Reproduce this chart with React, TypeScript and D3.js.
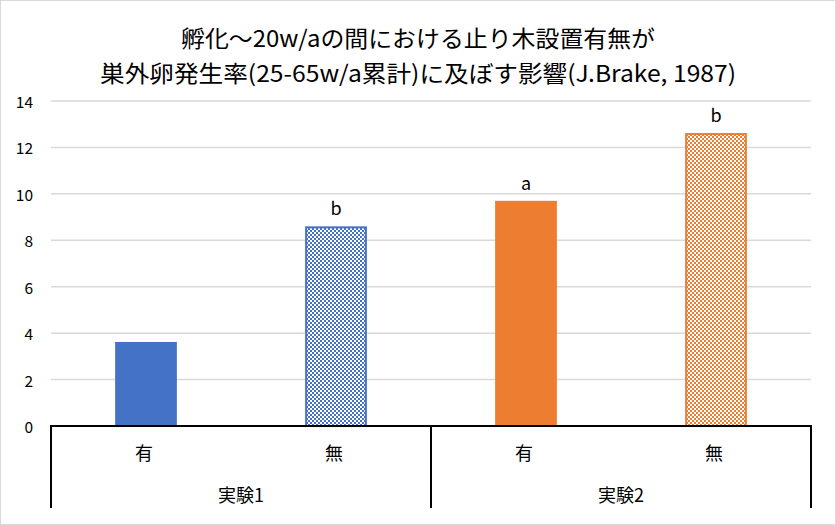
import React from "react";
import * as d3 from "d3";

const categories = ["有", "無", "有", "無"];
const groups = ["実験1", "実験2"];
const values = [3.62, 8.6, 9.7, 12.62];
const labels = ["", "b", "a", "b"];
const colors = ["#4472c4", "#4472c4", "#ed7d31", "#ed7d31"];
const patterned = [false, true, false, true];
const yTicks = [0, 2, 4, 6, 8, 10, 12, 14];
const titleLines = [
  "孵化～20w/aの間における止り木設置有無が",
  "巣外卵発生率(25-65w/a累計)に及ぼす影響(J.Brake, 1987)",
];

const W = 836;
const H = 525;
const left = 51;
const right = 811;
const top = 101;
const bottom = 426;
const font = "'Noto Sans CJK JP', 'Noto Sans', sans-serif";

export default function App() {
  const y = d3.scaleLinear().domain([0, 14]).range([bottom, top]);
  const x = d3
    .scaleBand<number>()
    .domain(d3.range(categories.length))
    .range([left, right])
    .paddingInner(0.675)
    .paddingOuter(0.3375);
  const groupX = d3.scaleBand<number>().domain(d3.range(groups.length)).range([left, right]);
  const catBand = (right - left) / categories.length;

  return (
    <svg
      width={W}
      height={H}
      style={{ position: "absolute", left: 0, top: 0, background: "#fff" }}
      fontFamily={font}
    >
      <defs>
        {["#4472c4", "#ed7d31"].map((c, i) => (
          <pattern key={c} id={`chk${i}`} width={4} height={4} patternUnits="userSpaceOnUse">
            <rect width={4} height={4} fill="#fff" />
            <rect x={0} y={0} width={2} height={2} fill={c} />
            <rect x={2} y={2} width={2} height={2} fill={c} />
          </pattern>
        ))}
      </defs>
      <rect x={0.5} y={0.5} width={W - 1} height={H - 1} fill="#fff" stroke="#d9d9d9" />
      {titleLines.map((t, i) => (
        <text
          key={i}
          x={418}
          y={37 + i * 35}
          textAnchor="middle"
          dominantBaseline="central"
          fontSize={i === 0 ? 23 : 23}
          textLength={i === 0 ? 474 : 636}
          lengthAdjust="spacingAndGlyphs"
          fill="#000"
        >
          {t}
        </text>
      ))}
      {yTicks.map((t) => (
        <g key={t}>
          {t > 0 && (
            <line x1={left} x2={right} y1={y(t)} y2={y(t)} stroke="#d9d9d9" strokeWidth={1.5} />
          )}
          <text
            x={33}
            y={y(t)}
            textAnchor="end"
            dominantBaseline="central"
            fontSize={15.5}
            fill="#000"
          >
            {t}
          </text>
        </g>
      ))}
      {values.map((v, i) => {
        const bx = x(i)!;
        const bw = x.bandwidth();
        const c = colors[i];
        const ci = c === "#4472c4" ? 0 : 1;
        return (
          <g key={i}>
            {patterned[i] ? (
              <rect
                x={bx + 1}
                y={y(v) + 1}
                width={bw - 2}
                height={y(0) - y(v) - 1}
                fill={`url(#chk${ci})`}
                stroke={c}
                strokeWidth={2}
              />
            ) : (
              <rect x={bx} y={y(v)} width={bw} height={y(0) - y(v)} fill={c} />
            )}
            {labels[i] && (
              <text
                x={bx + bw / 2}
                y={y(v) - 19}
                textAnchor="middle"
                dominantBaseline="central"
                fontSize={18}
                fill="#000"
              >
                {labels[i]}
              </text>
            )}
          </g>
        );
      })}
      <line x1={left} x2={right + 1} y1={bottom} y2={bottom} stroke="#000" strokeWidth={2} />
      {[left, (left + right) / 2, right].map((lx, i) => (
        <line key={i} x1={lx} x2={lx} y1={bottom - 1} y2={508} stroke="#000" strokeWidth={2} />
      ))}
      {categories.map((c, i) => (
        <text
          key={i}
          x={left + catBand * (i + 0.5) - 2}
          y={452}
          textAnchor="middle"
          dominantBaseline="central"
          fontSize={18}
          fill="#000"
        >
          {c}
        </text>
      ))}
      {groups.map((g, i) => (
        <text
          key={g}
          x={groupX(i)! + groupX.bandwidth() / 2}
          y={494}
          textAnchor="middle"
          dominantBaseline="central"
          fontSize={18}
          fill="#000"
        >
          {g}
        </text>
      ))}
    </svg>
  );
}
